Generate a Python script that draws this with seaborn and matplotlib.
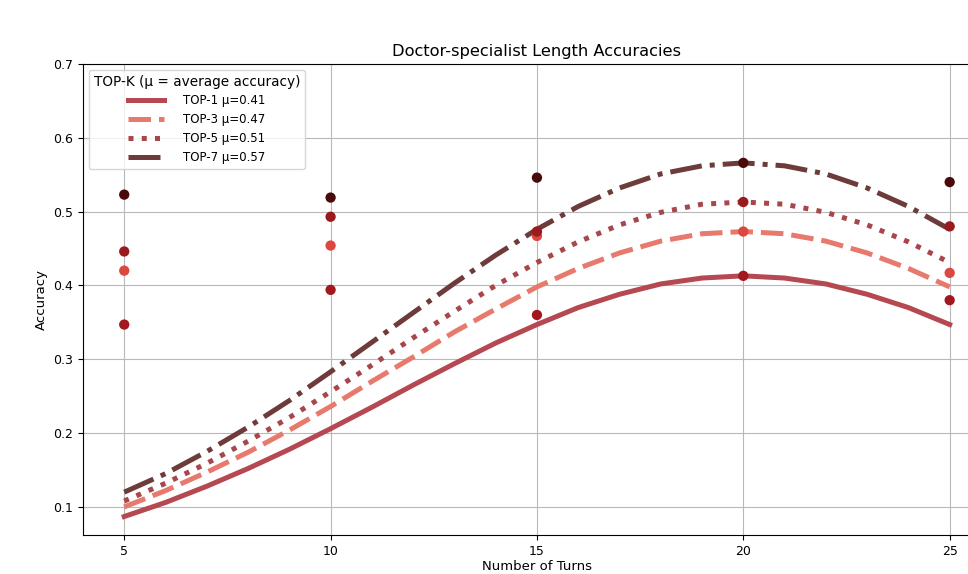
import numpy as np
import pandas as pd
import matplotlib
matplotlib.use('Agg')
import matplotlib.pyplot as plt
import seaborn as sns

# Observed accuracies per number of turns
turns = [5, 10, 15, 20, 25]
top1_points = [0.347, 0.394, 0.360, 0.413, 0.380]
top3_points = [0.420, 0.454, 0.467, 0.473, 0.417]
top5_points = [0.446, 0.493, 0.473, 0.513, 0.480]
top7_points = [0.523, 0.519, 0.546, 0.566, 0.540]

# Fitted curves at every turn from 5 to 25
curve_x = list(range(5, 26))
top1_curve = [0.087, 0.106, 0.128, 0.152, 0.178, 0.206, 0.235, 0.265, 0.294, 0.322,
              0.347, 0.370, 0.388, 0.402, 0.410, 0.413, 0.410, 0.402, 0.388, 0.370, 0.347]
top3_curve = [0.100, 0.122, 0.147, 0.174, 0.204, 0.236, 0.270, 0.303, 0.337, 0.368,
              0.398, 0.423, 0.444, 0.460, 0.470, 0.473, 0.470, 0.460, 0.444, 0.423, 0.398]
top5_curve = [0.108, 0.132, 0.159, 0.189, 0.221, 0.256, 0.292, 0.329, 0.365, 0.400,
              0.431, 0.459, 0.482, 0.499, 0.510, 0.513, 0.510, 0.499, 0.482, 0.459, 0.431]
top7_curve = [0.120, 0.145, 0.175, 0.208, 0.244, 0.283, 0.323, 0.363, 0.403, 0.441,
              0.476, 0.507, 0.532, 0.551, 0.562, 0.566, 0.562, 0.551, 0.532, 0.507, 0.476]

labels = ['TOP-1 μ=0.41', 'TOP-3 μ=0.47', 'TOP-5 μ=0.51', 'TOP-7 μ=0.57']
line_colors = ['#b54850', '#e8796d', '#a8474b', '#6e3b3b']
point_colors = ['#a3181e', '#dc4740', '#9a1a1e', '#4a0a0a']
line_styles = ['-', (0, (4.5, 1.6)), (0, (1, 1.65)), (0, (6.4, 1.6, 1, 1.6))]

points = [top1_points, top3_points, top5_points, top7_points]
curves = [top1_curve, top3_curve, top5_curve, top7_curve]

plt.style.use('default')
plt.rcParams['font.family'] = ['DejaVu Sans']

fig = plt.figure(figsize=(9.68, 5.74), dpi=100)
ax = fig.add_axes([0.0857, 0.068, 0.938, 0.8206])

for lab, pts, crv, lc, pc, ls in zip(labels, points, curves, line_colors, point_colors, line_styles):
    df_pts = pd.DataFrame({'turns': turns, 'acc': pts})
    df_crv = pd.DataFrame({'turns': curve_x, 'acc': crv})
    sns.scatterplot(data=df_pts, x='turns', y='acc', color=pc, s=55,
                    edgecolor='none', ax=ax, zorder=3)
    sns.lineplot(data=df_crv, x='turns', y='acc', color=lc, linestyle=ls,
                 linewidth=3.6, label=lab, ax=ax, zorder=2)

ax.set_xlim(4, 26)
ax.set_ylim(0.062, 0.7)
ax.set_xticks(turns)
ax.set_yticks([0.1, 0.2, 0.3, 0.4, 0.5, 0.6, 0.7])
ax.tick_params(labelsize=9)
ax.grid(True, color='#b8b8b8', linewidth=0.8)
ax.set_axisbelow(True)
ax.set_xlabel('Number of Turns', fontsize=9.5, labelpad=2)
ax.set_ylabel('Accuracy', fontsize=9.5)
ax.set_title('Doctor-specialist Length Accuracies', fontsize=11.7)

leg = ax.legend(title='TOP-K (μ = average accuracy)', loc='upper left',
                fontsize=8.5, title_fontsize=9.8, handlelength=3.0,
                handletextpad=1.6)

fig.savefig('out.png', dpi=100)
plt.close()
